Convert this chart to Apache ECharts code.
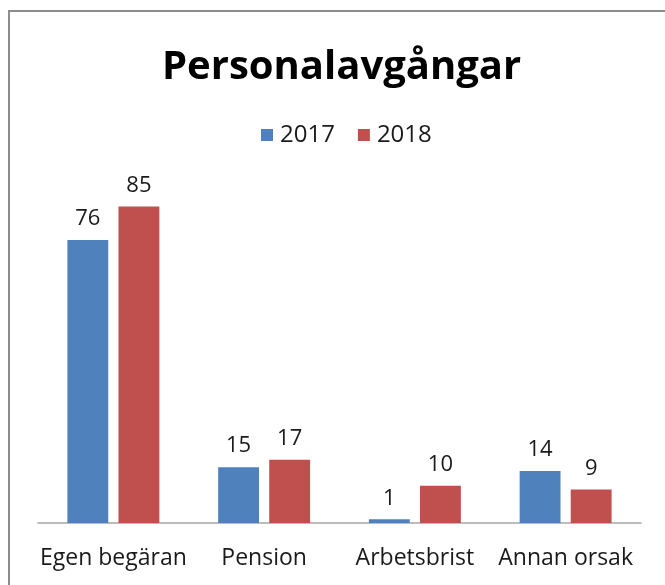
<!DOCTYPE html>
<html><head><meta charset="utf-8">
<script src="https://cdn.jsdelivr.net/npm/echarts@6/dist/echarts.min.js"></script>
<style>html,body{margin:0;padding:0;background:#fff}#c{width:665px;height:585px}</style>
</head><body><div id="c"></div>
<script>
const categories = ['Egen begäran', 'Pension', 'Arbetsbrist', 'Annan orsak'];
const values2017 = [76, 15, 1, 14];
const values2018 = [85, 17, 10, 9];
const seriesNames = ['2017', '2018'];

const chart = echarts.init(document.getElementById('c'));
const font = 'Open Sans';
const labelStyle = {show: true, position: 'top', distance: 10, color: '#1a1a1a', fontSize: 22, fontFamily: font};
chart.setOption({
  animation: false,
  title: {text: 'Personalavgångar', left: 157, top: 43,
    textStyle: {fontFamily: font, fontWeight: 'bold', fontSize: 40, color: '#000'}},
  legend: {top: 118, left: 256, itemWidth: 12, itemHeight: 12, itemGap: 23, icon: 'rect',
    textStyle: {fontFamily: font, fontSize: 24, color: '#1a1a1a', padding: [0, 0, 0, 2]},
    data: seriesNames},
  graphic: [{type: 'rect', shape: {x: 9, y: 11, width: 700, height: 620},
    style: {fill: 'none', stroke: '#8c8c8c', lineWidth: 2}, silent: true, z: -1}],
  grid: {left: 38, right: 24, top: 188, bottom: 62},
  xAxis: {type: 'category', data: categories,
    axisLine: {lineStyle: {color: '#a6a6a6', width: 1.5}}, axisTick: {show: false},
    axisLabel: {fontFamily: font, fontSize: 23, color: '#1a1a1a', margin: 24, interval: 0}},
  yAxis: {type: 'value', min: 0, max: 90, show: false, splitLine: {show: false}},
  series: [
    {name: seriesNames[0], type: 'bar', data: values2017, barGap: '25%', barCategoryGap: '39%',
      itemStyle: {color: '#4f81bd'}, label: labelStyle},
    {name: seriesNames[1], type: 'bar', data: values2018,
      itemStyle: {color: '#c0504d'}, label: labelStyle}
  ]
});
</script></body></html>
